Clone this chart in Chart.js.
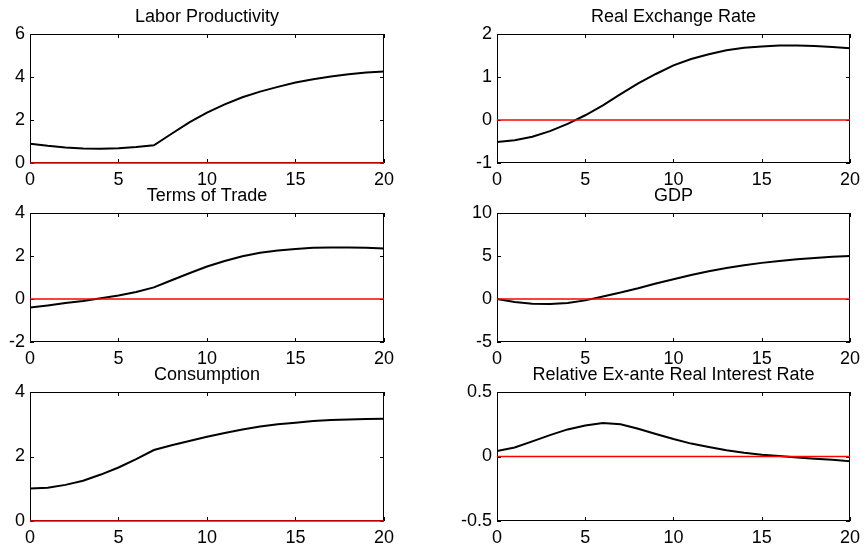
<!DOCTYPE html>
<html>
<head>
<meta charset="utf-8">
<script src="https://cdn.jsdelivr.net/npm/chart.js@4"></script>
<style>
  html, body { margin: 0; padding: 0; background: #fff; }
  #fig { position: relative; width: 867px; height: 550px; overflow: hidden; }
  #fig canvas { position: absolute; }
</style>
</head>
<body>
<div id="fig"></div>
<script>
// impulse responses over a 20 quarter horizon
const horizon = [0, 1, 2, 3, 4, 5, 6, 7, 8, 9, 10, 11, 12, 13, 14, 15, 16, 17, 18, 19, 20];

const laborProductivity = [0.90, 0.80, 0.72, 0.68, 0.66, 0.69, 0.74, 0.82, 1.36, 1.89, 2.34,
  2.73, 3.06, 3.32, 3.54, 3.74, 3.90, 4.02, 4.13, 4.21, 4.26];
const realExchangeRate = [-0.51, -0.47, -0.39, -0.26, -0.09, 0.11, 0.34, 0.60, 0.85, 1.07, 1.27,
  1.42, 1.53, 1.62, 1.68, 1.71, 1.73, 1.73, 1.72, 1.70, 1.67];
const termsOfTrade = [-0.40, -0.30, -0.19, -0.09, 0.03, 0.16, 0.33, 0.54, 0.87, 1.20, 1.51,
  1.77, 1.99, 2.15, 2.26, 2.33, 2.38, 2.40, 2.40, 2.38, 2.35];
const gdp = [0, -0.35, -0.55, -0.58, -0.47, -0.16, 0.30, 0.75, 1.25, 1.80, 2.30,
  2.78, 3.22, 3.60, 3.93, 4.20, 4.43, 4.62, 4.78, 4.90, 5.00];
const consumption = [1.01, 1.03, 1.12, 1.25, 1.44, 1.66, 1.92, 2.20, 2.35, 2.48, 2.61,
  2.73, 2.84, 2.93, 3.00, 3.05, 3.10, 3.13, 3.15, 3.16, 3.17];
const realRateGap = [0.042, 0.070, 0.117, 0.166, 0.210, 0.240, 0.260, 0.250, 0.215, 0.174, 0.135,
  0.100, 0.073, 0.049, 0.029, 0.013, 0.003, -0.008, -0.018, -0.026, -0.036];

// y tick values per panel
const prodTicks = [0, 2, 4, 6];
const rerTicks = [-1, 0, 1, 2];
const totTicks = [-2, 0, 2, 4];
const gdpTicks = [-5, 0, 5, 10];
const consTicks = [0, 2, 4];
const rateTicks = [-0.5, 0, 0.5];
const horizonTicks = [0, 5, 10, 15, 20];

const titles = ['Labor Productivity', 'Real Exchange Rate', 'Terms of Trade', 'GDP',
  'Consumption', 'Relative Ex-ante Real Interest Rate'];
const series = [laborProductivity, realExchangeRate, termsOfTrade, gdp, consumption, realRateGap];
const yTicks = [prodTicks, rerTicks, totTicks, gdpTicks, consTicks, rateTicks];

// subplot geometry
const PLOT_W = 355, PLOT_H = 129, PAD_TOP = 30, X_AXIS_H = 25;
const colLeft = [30, 497], colAxisW = [30, 50], colPadR = [15, 14];
const rowTop = [34, 213, 392];
const FONT = '"Liberation Sans", Arial, Helvetica, sans-serif';

Chart.defaults.font.family = FONT;
Chart.defaults.font.size = 18;
Chart.defaults.color = '#000';

// box around the axes, inward ticks on every side, and the title
const panelFrame = {
  id: 'panelFrame',
  beforeDatasetsDraw(chart) {
    const { ctx, chartArea: a, scales: { x, y } } = chart;
    const tl = 4;
    ctx.save();
    ctx.strokeStyle = '#000';
    ctx.lineWidth = 1;
    ctx.strokeRect(a.left + 0.5, a.top + 0.5, a.width - 1, a.height - 1);
    ctx.beginPath();
    x.ticks.forEach(t => {
      const px = Math.round(x.getPixelForValue(t.value)) + 0.5;
      ctx.moveTo(px, a.bottom); ctx.lineTo(px, a.bottom - tl);
      ctx.moveTo(px, a.top); ctx.lineTo(px, a.top + tl);
    });
    y.ticks.forEach(t => {
      const py = Math.round(y.getPixelForValue(t.value)) + 0.5;
      ctx.moveTo(a.left, py); ctx.lineTo(a.left + tl, py);
      ctx.moveTo(a.right, py); ctx.lineTo(a.right - tl, py);
    });
    ctx.stroke();
    ctx.restore();
  },
  afterDraw(chart, args, opts) {
    const { ctx, chartArea: a } = chart;
    ctx.save();
    ctx.font = '18px ' + FONT;
    ctx.fillStyle = '#000';
    ctx.textAlign = 'center';
    ctx.textBaseline = 'alphabetic';
    ctx.fillText(opts.title, (a.left + a.right) / 2, a.top - 12);
    ctx.restore();
  }
};

const fig = document.getElementById('fig');

series.forEach((vals, i) => {
  const col = i % 2, row = Math.floor(i / 2);
  const axisW = colAxisW[col], padR = colPadR[col];
  const cv = document.createElement('canvas');
  cv.width = axisW + PLOT_W + padR;
  cv.height = PAD_TOP + PLOT_H + X_AXIS_H;
  cv.style.left = (colLeft[col] - axisW) + 'px';
  cv.style.top = (rowTop[row] - PAD_TOP) + 'px';
  fig.appendChild(cv);

  const ticks = yTicks[i];
  new Chart(cv, {
    type: 'line',
    data: {
      datasets: [
        {
          data: horizon.map(h => ({ x: h, y: 0 })),
          borderColor: '#ff0000',
          borderWidth: 1.5,
          pointRadius: 0,
          clip: false
        },
        {
          data: horizon.map((h, k) => ({ x: h, y: vals[k] })),
          borderColor: '#000',
          borderWidth: 2,
          pointRadius: 0,
          tension: 0
        }
      ]
    },
    options: {
      responsive: false,
      animation: false,
      devicePixelRatio: 1,
      layout: { padding: { top: PAD_TOP, right: padR, left: 0, bottom: 0 } },
      plugins: {
        legend: { display: false },
        tooltip: { enabled: false },
        panelFrame: { title: titles[i] }
      },
      scales: {
        x: {
          type: 'linear',
          min: horizonTicks[0],
          max: horizonTicks[horizonTicks.length - 1],
          ticks: { stepSize: horizonTicks[1] - horizonTicks[0], padding: 6, maxRotation: 0, autoSkip: false },
          grid: { display: false, drawTicks: false },
          border: { display: false },
          afterFit: s => { s.height = X_AXIS_H; }
        },
        y: {
          type: 'linear',
          min: ticks[0],
          max: ticks[ticks.length - 1],
          ticks: { stepSize: ticks[1] - ticks[0], padding: 5, autoSkip: false },
          grid: { display: false, drawTicks: false },
          border: { display: false },
          afterFit: s => { s.width = axisW; }
        }
      }
    },
    plugins: [panelFrame]
  });
});
</script>
</body>
</html>
